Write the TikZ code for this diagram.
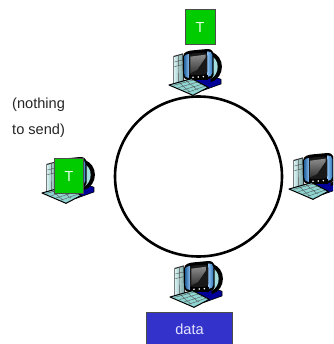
\documentclass[tikz,border=0pt]{standalone}
\usepackage{fontspec}
\setmainfont{Liberation Sans}
\definecolor{tokgreen}{HTML}{00CC00}
\definecolor{datablue}{HTML}{3333CC}
\definecolor{pcteal}{HTML}{A5DEDE}
\definecolor{pcnavy}{HTML}{000099}
\definecolor{pcblue}{HTML}{3D94E6}
\definecolor{pckey}{HTML}{8ED4D0}
\begin{document}
\begin{tikzpicture}[x=1pt,y=-1pt,
  labeltext/.style={font=\fontsize{14.6}{16}\selectfont,text=black!85,inner sep=0pt,anchor=base west},
  token/.style={draw=black!70,line width=1pt,fill=tokgreen,text=white!90!green,font=\fontsize{14.6}{16}\selectfont,inner sep=0pt,anchor=north west,minimum width=#1,minimum height=35pt},
  databox/.style={draw=black!70,line width=1pt,fill=datablue,text=white!90!blue,font=\fontsize{14.6}{16}\selectfont,inner sep=0pt,anchor=north west,minimum width=86pt,minimum height=34pt},
  ring/.style={draw=black,line width=2.6pt},
  computer/.pic={
    \begin{scope}[x=0.3333pt,y=-0.3333pt,line join=round]
      % tower
      \fill[black!80] (13,18) -- (42,10) -- (46,98) -- (13,106) -- cycle;
      \path[left color=pcteal!50!white,right color=pcteal!75!black] (16,21) -- (40,14) -- (42,95) -- (16,102) -- cycle;
      \draw[black!70,line width=.4pt] (16,36) -- (41,30) (16,50) -- (41,44) (28,18) -- (29,98);
      % base
      \fill[pcnavy,draw=black,line width=.6pt] (40,96) -- (110,70) -- (156,88) -- (156,102) -- (100,122) -- cycle;
      % monitor back
      \fill[black] (125,6) .. controls (170,16) and (170,84) .. (125,96) -- cycle;
      \fill[pcteal] (125,18) .. controls (153,26) and (153,74) .. (125,86) -- cycle;
      % bezel
      \fill[black] (42,20) .. controls (42,6) and (58,2) .. (72,1) -- (115,-3) .. controls (127,-4) and (134,5) .. (134,15) -- (134,72) .. controls (134,82) and (126,87) .. (115,87) -- (70,91) .. controls (50,93) and (42,84) .. (42,72) -- cycle;
      \fill[left color=pcblue!70!black,right color=pcblue!60!white] (46,24) .. controls (46,14) and (52,12) .. (60,12) -- (60,84) .. controls (52,84) and (46,80) .. (46,70) -- cycle;
      \fill[left color=pcblue!60!white,right color=pcblue!80!black] (115,4) .. controls (124,3) and (130,8) .. (130,16) -- (130,68) .. controls (130,76) and (124,80) .. (115,81) -- cycle;
      % screen
      \fill[black!90] (60,20) .. controls (60,13) and (66,11) .. (72,10) -- (105,8) .. controls (112,8) and (115,12) .. (115,18) -- (115,66) .. controls (115,72) and (110,74) .. (104,74) -- (72,76) .. controls (64,76) and (60,72) .. (60,66) -- cycle;
      \path[top color=black!45,bottom color=black!80] (64,20) -- (110,14) -- (110,22) -- (84,60) -- (64,70) -- cycle;
      \fill[black] (60,76) rectangle (116,90);
      \fill[white] (72,82) circle (2.6) (88,81) circle (2.6) (103,80) circle (2.6);
      % keyboard
      \fill[pckey,draw=black,line width=1pt] (0,105) -- (68,86) -- (118,112) -- (72,136) -- cycle;
      \draw[black!70,line width=.35pt] (14,106) -- (74,90) (28,113) -- (86,96) (42,120) -- (98,103) (56,127) -- (109,108)
        (30,97) -- (62,126) (50,91) -- (86,120);
    \end{scope}
  }]
\useasboundingbox (0,0) rectangle (333,344);
\clip (0,0) rectangle (333,344);
\fill[white] (0,0) rectangle (333,344);
\draw[ring] (198.5,176.5) ellipse [x radius=83.5, y radius=80];
\pic at (169,50) {computer};
\pic at (289,154) {computer};
\pic at (170,262) {computer};
\pic at (42,158) {computer};
\node[token=30pt] (toptoken) at (184.5,9.5) {T};
\node[token=29pt] (lefttoken) at (54,158) {T};
\node[databox] (data) at (146,312) {data};
\node[labeltext] (nothing) at (12,109) {(nothing};
\node[labeltext] (tosend) at (12,135) {to send)};
\end{tikzpicture}
\end{document}
